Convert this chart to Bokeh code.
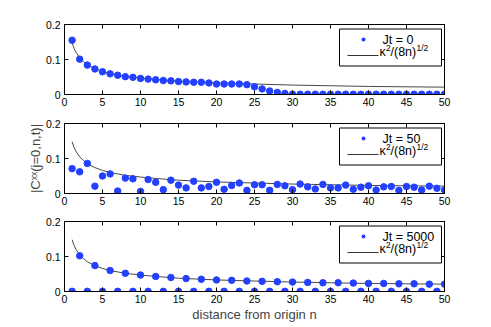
from bokeh.plotting import figure
from bokeh.models import Range1d, FixedTicker, LinearAxis, BoxAnnotation, Label
from bokeh.layouts import column
from bokeh.embed import file_html
from bokeh.resources import INLINE

n = list(range(1, 51))

c_jt0 = [0.155, 0.101, 0.084, 0.073, 0.065, 0.059, 0.055, 0.051, 0.049, 0.046,
         0.044, 0.042, 0.040, 0.039, 0.037, 0.036, 0.035, 0.035, 0.033, 0.030,
         0.030, 0.030, 0.030, 0.028, 0.022, 0.016, 0.010, 0.006, 0.003, 0.001,
         0.0008, 0.0008, 0.0008, 0.0008, 0.0008, 0.0008, 0.0008, 0.0008, 0.0008, 0.0008,
         0.0008, 0.0008, 0.0008, 0.0008, 0.0008, 0.0008, 0.0008, 0.0008, 0.0008, 0.0008]

c_jt50 = [0.071, 0.062, 0.086, 0.021, 0.050, 0.056, 0.007, 0.044, 0.042, 0.006,
          0.040, 0.032, 0.011, 0.038, 0.024, 0.016, 0.035, 0.016, 0.020, 0.032,
          0.012, 0.023, 0.030, 0.009, 0.025, 0.025, 0.009, 0.026, 0.022, 0.011,
          0.027, 0.019, 0.013, 0.026, 0.016, 0.016, 0.024, 0.012, 0.018, 0.022,
          0.010, 0.019, 0.020, 0.009, 0.020, 0.018, 0.010, 0.021, 0.015, 0.010]

c_jt5000 = [0.0005, 0.102, 0.0005, 0.074, 0.0005, 0.060, 0.0005, 0.052, 0.0005, 0.047,
            0.0005, 0.043, 0.0005, 0.040, 0.0005, 0.037, 0.0005, 0.035, 0.0005, 0.033,
            0.0005, 0.032, 0.0005, 0.030, 0.0005, 0.029, 0.0005, 0.028, 0.0005, 0.027,
            0.0005, 0.026, 0.0005, 0.025, 0.0005, 0.025, 0.0005, 0.024, 0.0005, 0.023,
            0.0005, 0.023, 0.0005, 0.022, 0.0005, 0.022, 0.0005, 0.021, 0.0005, 0.021]

curve_n = [1, 1.25, 1.5, 2, 2.5, 3, 4, 5, 6, 8, 10, 12, 15, 20, 25, 30, 35, 40, 45, 50]
curve_v = [0.148, 0.132, 0.121, 0.105, 0.094, 0.085, 0.074, 0.066, 0.060, 0.052,
           0.047, 0.043, 0.038, 0.033, 0.030, 0.027, 0.025, 0.023, 0.022, 0.021]

series = [c_jt0, c_jt50, c_jt5000]
legend_labels = ["Jt = 0", "Jt = 50", "Jt = 5000"]
x_ticks = [0, 5, 10, 15, 20, 25, 30, 35, 40, 45, 50]
y_ticks = [0, 0.1, 0.2]
y_tick_labels = {0: "0", 0.1: "0.1", 0.2: "0.2"}
x_label = "distance from origin n"
y_label = "|C\u02e3\u02e3(j=0,n,t)|"

FONT = "Liberation Sans"
BLUE = "#2340ff"
LINE = "#333333"
FH = 70


def make_panel(idx, top, bottom):
    p = figure(frame_width=380, frame_height=FH,
               x_range=Range1d(0, 50), y_range=Range1d(0, 0.2),
               output_backend="svg", toolbar_location=None,
               min_border_left=64, min_border_right=40,
               min_border_top=top, min_border_bottom=bottom,
               background_fill_color="white", border_fill_color="white")
    p.grid.visible = False
    p.outline_line_color = "black"
    p.outline_line_width = 1

    for ax in (p.xaxis[0], p.yaxis[0]):
        ax.major_tick_in = 4
        ax.major_tick_out = 0
        ax.minor_tick_line_color = None
        ax.axis_line_color = "black"
        ax.major_tick_line_color = "black"
        ax.major_label_text_font = FONT
        ax.major_label_text_font_size = "10.5px"
        ax.major_label_text_color = "black"
    p.xaxis.ticker = FixedTicker(ticks=x_ticks)
    p.yaxis.ticker = FixedTicker(ticks=y_ticks)
    p.yaxis.major_label_overrides = y_tick_labels
    p.xaxis.major_label_standoff = 3
    p.yaxis.major_label_standoff = 4

    # mirrored ticks on top and right (no labels)
    top_ax = LinearAxis(ticker=FixedTicker(ticks=x_ticks), major_tick_in=4, major_tick_out=0,
                        minor_tick_line_color=None,
                        major_label_overrides={t: "" for t in x_ticks},
                        major_label_standoff=0, axis_line_color="black")
    right_ax = LinearAxis(ticker=FixedTicker(ticks=y_ticks), major_tick_in=4, major_tick_out=0,
                          minor_tick_line_color=None,
                          major_label_overrides={t: "" for t in y_ticks},
                          major_label_standoff=0, axis_line_color="black")
    p.add_layout(top_ax, "above")
    p.add_layout(right_ax, "right")

    p.line(curve_n, curve_v, line_color=LINE, line_width=0.9)
    p.scatter(n, series[idx], size=6.5, fill_color=BLUE, line_color=BLUE)

    # legend (manual, to allow superscripts); d = pixels down from frame top
    def sy(d):
        return FH - d
    p.add_layout(BoxAnnotation(left=275, right=377, top=sy(4.5), bottom=sy(41.5),
                               left_units="screen", right_units="screen",
                               top_units="screen", bottom_units="screen",
                               fill_color="white", fill_alpha=1.0,
                               line_color="black", line_width=1, line_alpha=1.0))
    p.add_layout(BoxAnnotation(left=297, right=301, top=sy(13), bottom=sy(17),
                               left_units="screen", right_units="screen",
                               top_units="screen", bottom_units="screen",
                               border_radius=2,
                               fill_color=BLUE, fill_alpha=1.0, line_alpha=0))
    p.add_layout(BoxAnnotation(left=283, right=314, top=sy(30.5), bottom=sy(31.5),
                               left_units="screen", right_units="screen",
                               top_units="screen", bottom_units="screen",
                               fill_color=LINE, fill_alpha=1.0, line_alpha=0))

    def lab(x, d, text, size):
        p.add_layout(Label(x=x, y=sy(d), x_units="screen", y_units="screen", text=text,
                           text_font=FONT, text_font_size=size, text_color="black",
                           text_baseline="alphabetic", text_align="left"))
    lab(318, 15.5, legend_labels[idx], "12.5px")
    lab(315, 27.5, "\u03ba", "12.5px")
    lab(321.5, 23, "2", "8.5px")
    lab(326, 27.5, "/(8n)", "12.5px")
    lab(352, 23, "1/2", "8.5px")
    return p


p1 = make_panel(0, 24, 15)
p2 = make_panel(1, 14, 14)
p3 = make_panel(2, 14, 27)

p2.left[0].axis_label = y_label
p2.left[0].axis_label_text_font = FONT
p2.left[0].axis_label_text_font_size = "13px"
p2.left[0].axis_label_text_font_style = "normal"
p2.left[0].axis_label_standoff = 0

p3.below[0].axis_label = x_label
p3.below[0].axis_label_text_font = FONT
p3.below[0].axis_label_text_font_size = "13px"
p3.below[0].axis_label_text_font_style = "normal"
p3.below[0].axis_label_standoff = 1

layout = column(p1, p2, p3, spacing=0)

open("out.html", "w").write(file_html(layout, INLINE))
